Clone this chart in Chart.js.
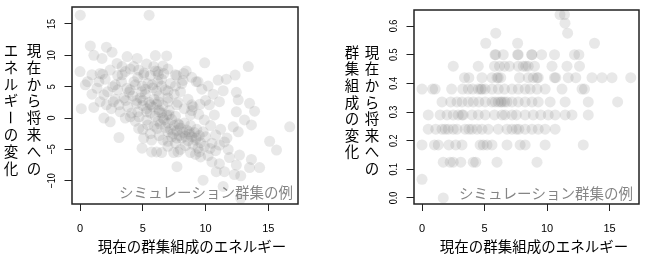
<!DOCTYPE html>
<html><head><meta charset="utf-8">
<script src="https://cdn.jsdelivr.net/npm/chart.js@4.4.1/dist/chart.umd.min.js"></script>
<style>
html,body{margin:0;padding:0;background:#fff;}
#wrap{position:relative;width:650px;height:259px;overflow:hidden;}
canvas{position:absolute;top:0;}
</style></head><body>
<div id="wrap">
<canvas id="c1" width="325" height="259" style="left:0"></canvas>
<canvas id="c2" width="325" height="259" style="left:325px"></canvas>
</div>
<script>
// ---- data ----
const xTicks = [0, 5, 10, 15];
const leftYTicks = [-10, -5, 0, 5, 10, 15];
const leftYTickLabels = ['−10', '−5', '0', '5', '10', '15'];
const rightYTicks = [0, 0.1, 0.2, 0.3, 0.4, 0.5, 0.6];
const rightYTickLabels = ['0.0', '0.1', '0.2', '0.3', '0.4', '0.5', '0.6'];
const xTitle = '現在の群集組成のエネルギー';
const leftYTitle = ['現在から将来への', 'エネルギーの変化'];
const rightYTitle = ['現在から将来への', '群集組成の変化'];
const noteText = 'シミュレーション群集の例';

const leftPoints = [
[0.02,16.4],[5.5,16.4],[0.82,11.5],[2.1,11.3],[2.55,10.5],[1.1,10.0],[1.75,9.5],[3.75,9.8],[4.55,9.5],[6.0,9.95],[6.9,9.9],
[0,7.4],[0.95,6.9],[1.6,7.1],[1.8,7.0],[2.4,7.65],[2.95,8.7],[3.35,8.2],[3.6,7.4],[3.35,6.9],[4.27,8.2],[4.67,7.65],[5.07,6.9],
[5.87,8.2],[6.2,7.4],[6.25,6.9],[6.66,7.1],[7.6,6.9],[8.25,7.1],[0.42,5.3],[0.6,5.8],[1.35,4.75],[0.95,3.8],[1.9,3.7],[2.8,5.3],
[3.0,4.5],[3.75,4.75],[3.9,4.1],[4.4,5.3],[4.95,5.1],[5.2,4.6],[5.75,5.3],[6.1,4.3],[6.5,5.1],[7.0,4.3],[7.6,5.1],[8.1,5.5],
[1.6,2.6],[2.1,2.1],[2.65,2.6],[3.1,2.1],[3.65,2.8],[4.5,2.3],[5.0,2.8],[5.6,2.1],[6.25,2.6],[7.0,2.6],[7.7,2.1],
[9.93,8.8],[13.4,8.2],[8.45,7.5],[9.25,5.8],[10.2,5.1],[11.0,6.05],[11.65,6.2],[12.35,6.85],[11.4,4.35],[12.45,4.1],[11.1,2.6],
[12.6,2.9],[13.5,2.35],[10.3,2.1],[9.55,2.2],[8.9,2.1],
[0.1,1.5],[1.1,1.7],[1.9,0],[2.4,-0.6],[3.1,-3.1],[4.0,0.2],[4.67,-1.65],[5.07,-3.2],[4.94,-4.8],[5.7,-3.5],[5.7,-5.4],[6.1,-5.4],
[6.5,-5.5],[7.46,-5.5],[7.8,-5.4],[7.72,-7.75],[6.15,-1.65],[7.0,-2.2],[5.4,-1.1],[3.6,0],[4.6,1.0],[5.3,1.0],[6.3,1.0],[7.1,0.5],
[7.9,-1.1],[7.7,-3.2],[7.0,-3.7],[6.6,0],
[8.7,-2.2],[9.25,-3.2],[9.5,-5.4],[10.35,-4.85],[11.1,-4.3],[11.7,-3.2],[10.8,-2.7],[12.2,-1.4],[12.6,-2.2],[13.1,-0.3],[13.65,-1.1],
[13.9,1.1],[12.45,1.0],[16.7,-1.4],[15.1,-3.7],[15.65,-5.1],[12.7,-5.9],[11.9,-6.3],[13.65,-6.6],[14.3,-7.9],[13.5,-7.9],[12.45,-7.5],
[11.5,-8.55],[12.3,-9.0],[12.8,-9.2],[10.85,-8.55],[9.8,-9.9],[10.5,-7.0],[11.1,-7.3],[11.4,-10.9],[12.8,-12.8],[9.45,0.6],[9.9,-0.3],[8.9,1.2],
[4.2,3.5],[4.5,2.8],[4.8,3.2],[5.0,2.0],[5.2,3.8],[5.3,1.5],[5.5,2.5],[5.6,0.8],[5.8,1.8],[5.9,3.0],[6.0,0.3],[6.1,2.2],[6.2,-0.5],
[6.3,1.3],[6.4,-1.0],[6.5,0.8],[6.6,2.0],[6.7,-0.3],[6.8,-1.5],[6.9,0.5],[7.0,-0.8],[7.1,1.2],[7.2,-1.8],[7.3,-0.2],[7.4,-2.5],
[7.5,-1.2],[7.6,0.3],[7.7,-2.0],[7.8,-0.9],[7.9,-2.8],[8.0,-1.6],[8.1,-3.2],[8.2,-2.3],[8.3,-0.8],[8.4,-2.9],[8.5,-1.9],[8.6,-3.6],
[8.7,-2.6],[8.8,-1.2],[8.9,-3.0],[9.0,-4.2],[9.1,-2.3],[9.2,-3.5],[9.3,-1.8],[9.4,-4.8],[9.5,-2.8],[9.6,-3.9],[9.8,-2.2],[9.9,-4.5],
[10.0,-3.0],[4.0,4.5],[4.3,5.8],[4.6,6.5],[4.9,4.2],[5.1,7.2],[5.4,5.5],[5.6,6.8],[5.8,4.8],[6.0,7.5],[6.2,5.8],[6.3,3.5],[6.5,6.2],
[6.8,4.5],[7.0,3.2],[7.2,5.5],[7.5,3.8],[7.8,2.5],[8.0,4.2],[8.3,1.5],[8.6,3.0],[8.8,0.5],[9.0,1.8],[3.3,5.8],[3.5,3.2],[3.8,1.8],
[4.1,0.8],[4.4,-0.5],[4.7,0.2],[5.0,-1.8],[5.3,-0.3],[5.6,-2.5],[5.9,-1.3],[6.3,-2.8],[6.6,-3.5],[7.0,-4.5],[7.3,-3.0],[7.6,-4.0],
[8.0,-5.0],[8.4,-4.4],[8.8,-5.5],[9.2,-5.8],[9.6,-6.2],[10.2,-6.0],[10.5,-4.0],[10.8,-5.2],[10.4,-1.2],[10.7,0.5],[11.2,-1.8],
[11.5,-3.8],[11.8,-5.0],[10.0,2.8],[10.6,3.8],[9.7,4.6],[9.4,5.8],[8.9,6.5],[8.2,6.0],[7.7,6.8],[7.0,7.8],[6.6,8.3],[5.3,8.6],
[4.0,7.8],[3.0,6.8],[2.6,5.0],[2.2,4.2],[2.0,6.2],[2.8,3.0],[3.2,1.0],[2.5,1.5],[1.5,5.8]
];

const rightPoints = [
[11.04,0.64],[11.4,0.64],[11.44,0.61],[5.9,0.575],[11.65,0.575],[5.1,0.54],[7.65,0.54],[13.8,0.54],
[5.84,0.50],[5.9,0.50],[6.5,0.50],[7.65,0.50],[7.7,0.50],[8.77,0.50],[8.8,0.50],[9.57,0.50],[10.6,0.50],[12.2,0.50],[12.55,0.50],
[2.5,0.46],[4.5,0.46],[5.8,0.46],[6.2,0.46],[6.6,0.46],[7.0,0.46],[7.7,0.46],[8.1,0.46],[8.3,0.46],[8.5,0.46],[9.0,0.46],[10.4,0.46],[11.6,0.46],[12.6,0.46],
[3.4,0.42],[3.75,0.42],[4.8,0.42],[5.6,0.42],[6.0,0.42],[6.1,0.42],[6.3,0.42],[7.8,0.42],[8.5,0.42],[8.9,0.42],[9.2,0.42],[9.3,0.42],[10.6,0.42],[10.7,0.42],[11.7,0.42],[12.3,0.42],[13.6,0.42],[14.4,0.42],[15.2,0.42],[16.7,0.42],
[0,0.38],[0.85,0.38],[1.05,0.38],[2.37,0.38],[3.25,0.38],[3.7,0.38],[4.05,0.38],[4.5,0.38],[4.7,0.38],[4.8,0.38],[5.05,0.38],[5.6,0.38],[6.1,0.38],[6.6,0.38],[7.2,0.38],[7.7,0.38],[8.25,0.38],[8.65,0.38],[9.2,0.38],[9.85,0.38],[11.2,0.38],[12.8,0.38],[13.0,0.38],
[1.6,0.335],[2.3,0.335],[2.8,0.335],[3.2,0.335],[3.7,0.335],[4.1,0.335],[4.55,0.335],[5.05,0.335],[5.6,0.335],[5.85,0.335],[6.1,0.335],[6.3,0.335],[6.4,0.335],[6.6,0.335],[6.8,0.335],[7.2,0.335],[7.7,0.335],[8.25,0.335],[8.8,0.335],[9.3,0.335],[10.25,0.335],[11.45,0.335],[13.3,0.335],[15.65,0.335],
[0.5,0.29],[1.45,0.29],[2.0,0.29],[2.5,0.29],[2.9,0.29],[3.2,0.29],[3.3,0.29],[4.0,0.29],[4.5,0.29],[5.05,0.29],[5.8,0.29],[6.4,0.29],[6.65,0.29],[7.2,0.29],[7.55,0.29],[8.25,0.29],[8.9,0.29],[9.5,0.29],[10.1,0.29],[10.65,0.29],[11.45,0.29],[12.0,0.29],[13.3,0.29],
[0.5,0.24],[1.1,0.24],[1.6,0.24],[1.85,0.24],[2.1,0.24],[2.5,0.24],[2.8,0.24],[3.45,0.24],[3.75,0.24],[4.0,0.24],[4.4,0.24],[4.8,0.24],[5.3,0.24],[6.1,0.24],[6.8,0.24],[7.2,0.24],[7.55,0.24],[7.75,0.24],[8.25,0.24],[8.8,0.24],[9.3,0.24],[9.85,0.24],[10.65,0.24],
[0,0.185],[1.0,0.185],[1.3,0.185],[2.15,0.185],[2.7,0.185],[3.2,0.185],[4.65,0.185],[4.9,0.185],[5.2,0.185],[5.6,0.185],[6.8,0.185],[7.85,0.185],[8.25,0.185],[9.85,0.185],[12.9,0.185],
[1.7,0.125],[2.25,0.125],[2.5,0.125],[3.1,0.125],[4.1,0.125],[4.3,0.125],[6.0,0.125],[9.2,0.125],
[0,0.065],[1.7,0.0]
];

// ---- drawing helpers ----
const TICK_FONT = '"Liberation Sans", Arial, sans-serif';
const JP_FONT = '"Noto Sans CJK JP", "Noto Sans CJK SC", sans-serif';

function drawVertical(ctx, text, cx, top, pitch) {
  ctx.save();
  ctx.fillStyle = '#000';
  ctx.font = '14.5px ' + JP_FONT;
  ctx.textAlign = 'center';
  ctx.textBaseline = 'middle';
  [...text].forEach((ch, i) => {
    const cy = top + pitch * (i + 0.5);
    if (ch === 'ー') {
      ctx.save(); ctx.translate(cx, cy); ctx.rotate(Math.PI / 2); ctx.fillText(ch, 0, 0); ctx.restore();
    } else {
      ctx.fillText(ch, cx, cy);
    }
  });
  ctx.restore();
}

function makeChart(id, points, yTicks, yTickLabels, yMin, yMax, L) {
  const decor = {
    id: 'decor' + id,
    afterDatasetsDraw(chart) {
      const ctx = chart.ctx;
      ctx.save();
      ctx.fillStyle = '#858585';
      ctx.font = '14.5px ' + JP_FONT;
      ctx.textAlign = 'right';
      ctx.textBaseline = 'middle';
      ctx.fillText(noteText, L.noteRight, L.noteY);
      ctx.restore();
    },
    afterDraw(chart) {
      const ctx = chart.ctx, ca = chart.chartArea;
      const ys = chart.scales.y;
      ctx.save();
      // box
      ctx.strokeStyle = '#222';
      ctx.lineWidth = 1.5;
      ctx.strokeRect(ca.left, ca.top, ca.right - ca.left, ca.bottom - ca.top);
      // rotated y tick labels
      ctx.fillStyle = '#000';
      ctx.font = '11px ' + TICK_FONT;
      ctx.textAlign = 'center';
      ctx.textBaseline = 'middle';
      yTicks.forEach((v, i) => {
        const py = ys.getPixelForValue(v);
        ctx.save();
        ctx.translate(ca.left - 20.5, py);
        ctx.rotate(-Math.PI / 2);
        ctx.scale(0.82, 1);
        ctx.fillText(yTickLabels[i], 0, 0);
        ctx.restore();
      });
      // x title
      ctx.font = '14.5px ' + JP_FONT;
      ctx.textAlign = 'center';
      ctx.fillText(xTitle, L.xTitleX, 246);
      ctx.restore();
      // vertical y titles (right column first)
      drawVertical(ctx, L.yTitle[0], L.col1X, L.colTop, L.pitch);
      drawVertical(ctx, L.yTitle[1], L.col2X, L.colTop, L.pitch);
    }
  };

  return new Chart(document.getElementById(id), {
    type: 'scatter',
    data: {
      datasets: [{
        data: points.map(p => ({x: p[0], y: p[1]})),
        pointRadius: 5.5,
        pointHoverRadius: 5.5,
        borderWidth: 0,
        pointBorderWidth: 0,
        backgroundColor: 'rgba(120,120,120,0.17)',
        pointBackgroundColor: 'rgba(120,120,120,0.17)'
      }]
    },
    options: {
      responsive: false,
      animation: false,
      events: [],
      plugins: { legend: { display: false }, tooltip: { enabled: false } },
      layout: { padding: { left: 0, top: L.top, right: L.right, bottom: 0 } },
      scales: {
        x: {
          type: 'linear', position: 'bottom', min: -0.64, max: 17.36,
          afterBuildTicks: s => { s.ticks = xTicks.map(v => ({ value: v })); },
          afterFit: s => { s.height = 55; },
          grid: { display: true, drawOnChartArea: false, drawTicks: true, tickLength: 7, color: '#222', lineWidth: 1 },
          border: { display: false },
          ticks: { font: { family: TICK_FONT, size: 11 }, color: '#000', padding: 11, maxRotation: 0, minRotation: 0, autoSkip: false,
                   callback: v => String(v) }
        },
        y: {
          type: 'linear', position: 'left', min: yMin, max: yMax,
          afterBuildTicks: s => { s.ticks = yTicks.map(v => ({ value: v })); },
          afterFit: s => { s.width = L.left; },
          grid: { display: true, drawOnChartArea: false, drawTicks: true, tickLength: 7.5, color: '#222', lineWidth: 1 },
          border: { display: false },
          ticks: { display: false }
        }
      }
    },
    plugins: [decor]
  });
}

makeChart('c1', leftPoints, leftYTicks, leftYTickLabels, -13.7, 17.7, {
  left: 72, top: 7, right: 27, noteRight: 293, noteY: 192, xTitleX: 192,
  yTitle: leftYTitle, col1X: 34, col2X: 11, colTop: 42, pitch: 16.8
});
makeChart('c2', rightPoints, rightYTicks, rightYTickLabels, -0.021, 0.656, {
  left: 89, top: 10, right: 11, noteRight: 308, noteY: 193, xTitleX: 209,
  yTitle: rightYTitle, col1X: 47, col2X: 27, colTop: 44, pitch: 16.6
});
</script>
</body></html>
